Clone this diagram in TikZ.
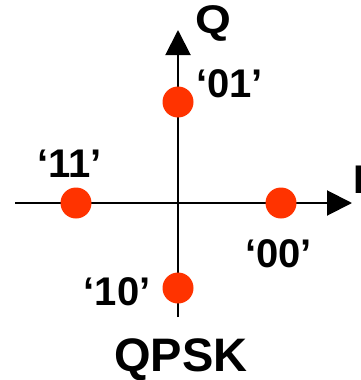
\documentclass[tikz,border=0pt]{standalone}
\usepackage{fontspec}
\setmainfont{Liberation Sans}
\usetikzlibrary{arrows.meta}
\definecolor{dotred}{HTML}{FF3300}
\tikzset{
  axis/.style={line width=2pt, -{Triangle[length=25pt,width=25pt]}},
  dot/.style={circle, fill=dotred, inner sep=0pt, minimum size=31pt},
  lab/.style={anchor=base, inner sep=0pt, font=\bfseries\fontsize{40}{40}\selectfont},
}
\begin{document}
\begin{tikzpicture}[x=1pt,y=-1pt]
\useasboundingbox (0,0) rectangle (360,380);
\coordinate (vb) at (178,317);
\coordinate (vt) at (178,30);
\coordinate (hl) at (15,203);
\coordinate (hr) at (352,203);
\draw[axis] (vb) -- (vt);
\draw[axis] (hl) -- (hr);
\node[dot] (d01) at (178,102) {};
\node[dot] (d11) at (76,203) {};
\node[dot] (d00) at (281,203) {};
\node[dot] (d10) at (178,288) {};
\node[lab, xscale=1.15, transform shape] (Q) at (213,33) {Q};
\node[lab, anchor=base west] (I) at (353.5,193) {I};
\node[lab] (l01) at (229.5,97) {‘01’};
\node[lab] (l11) at (69.5,177) {‘11’};
\node[lab] (l00) at (278.5,267) {‘00’};
\node[lab] (l10) at (117,305) {‘10’};
\node[lab, font=\bfseries\fontsize{47}{47}\selectfont] (title) at (181,371) {QPSK};
\end{tikzpicture}
\end{document}
